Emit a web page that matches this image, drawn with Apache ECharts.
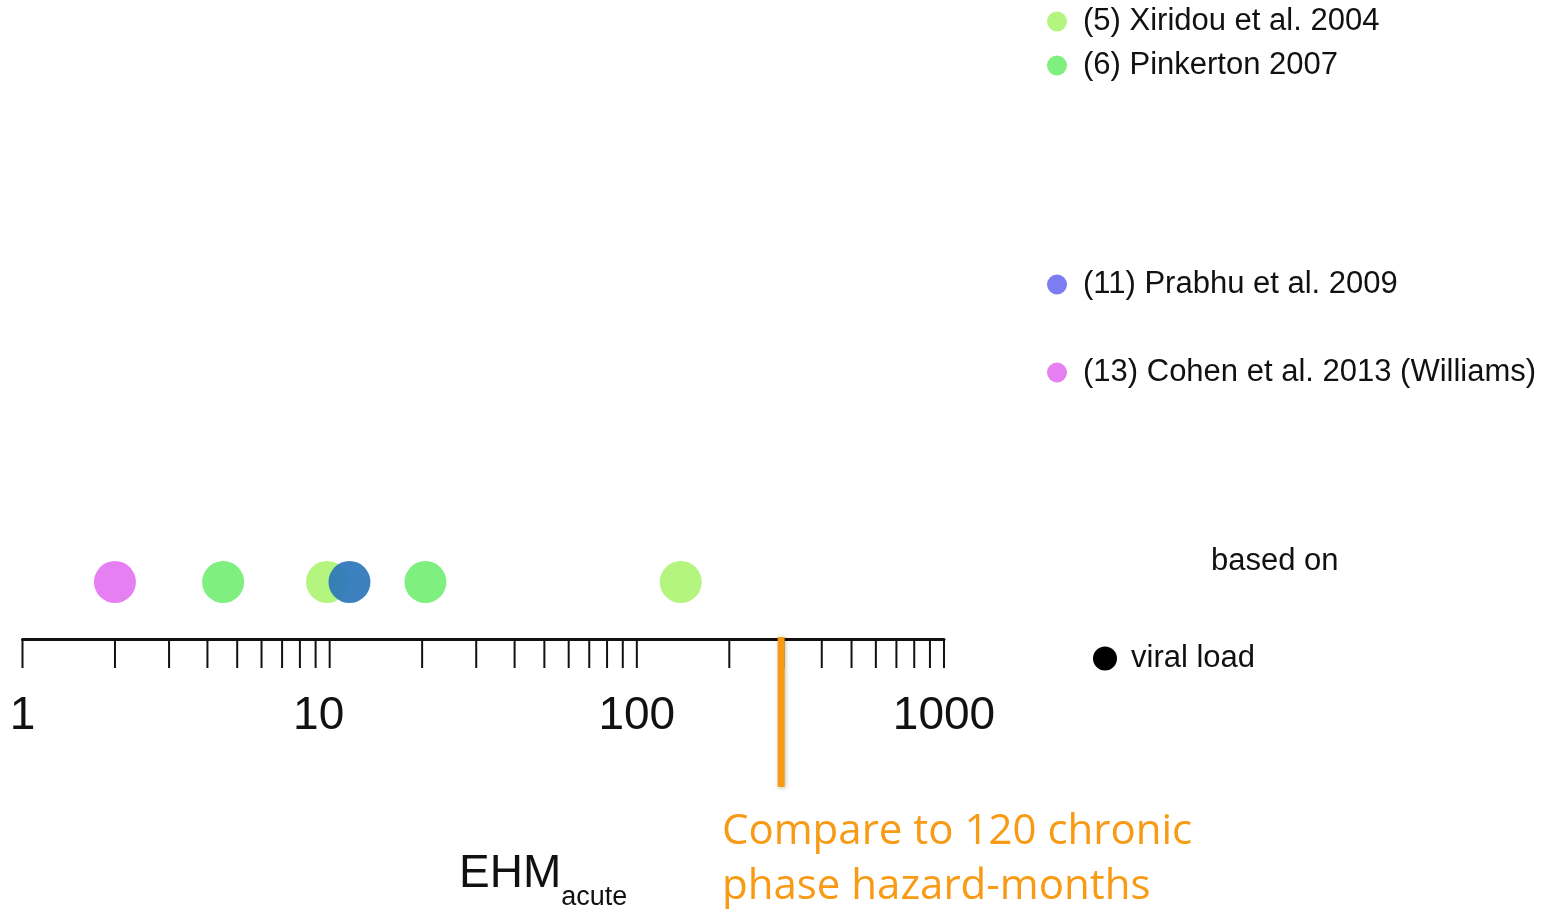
<!DOCTYPE html>
<html>
<head>
<meta charset="utf-8">
<title>EHM acute estimates</title>
<script src="https://cdn.jsdelivr.net/npm/echarts@6/dist/echarts.min.js"></script>
<style>
  html, body { margin: 0; padding: 0; background: #fff; }
  #chart { width: 1559px; height: 909px; }
</style>
</head>
<body>
<div id="chart"></div>
<script>
// Study names shown in the key
const studies = [
  '(5) Xiridou et al. 2004',
  '(6) Pinkerton 2007',
  '(11) Prabhu et al. 2009',
  '(13) Cohen et al. 2013 (Williams)'
];
// Excess hazard-months of the acute phase, per study
const xiridouEHM = [9.8, 139];
const pinkertonEHM = [4.5, 20.5];
const prabhuEHM = [11.6];
const cohenEHM = [2.0];
// Chronic phase reference marker on the axis
const chronicRef = 295;
// Log-axis tick marks: 1..10, 10..100, 100..1000
const axisTicks = [1, 2, 3, 4, 5, 6, 7, 8, 9, 10, 20, 30, 40, 50, 60, 70, 80, 90, 100,
  200, 300, 400, 500, 600, 700, 800, 900, 1000];
const tickLabels = ['1', '10', '100', '1000'];

const FONT = 'Liberation Sans';
const ORANGE = '#F89A14';

const chart = echarts.init(document.getElementById('chart'), null, { renderer: 'canvas' });

function legendBox(name, top, left, size, color) {
  return {
    show: true,
    orient: 'horizontal',
    left: left,
    top: top,
    padding: 0,
    icon: 'circle',
    itemWidth: 42,
    itemHeight: size,
    symbolKeepAspect: true,
    selectedMode: false,
    textStyle: { fontFamily: FONT, fontSize: 31, color: '#111' },
    data: [{ name: name, itemStyle: { color: color, opacity: 1 } }]
  };
}

const dot = (vals) => vals.map(v => [v, 1]);

const option = {
  backgroundColor: '#fff',
  animation: false,
  grid: { left: 22.5, right: 615, top: 525, bottom: 270, containLabel: false },
  title: [
    {
      text: 'based on', left: 1211, top: 546, padding: 0,
      textStyle: { fontFamily: FONT, fontSize: 31, fontWeight: 'normal', color: '#111' }
    },
    {
      text: '{a|EHM}{b|acute}', left: 459, top: 851, padding: 0,
      textStyle: {
        fontFamily: FONT, fontWeight: 'normal', color: '#111',
        rich: {
          a: { fontFamily: FONT, fontSize: 46, color: '#111', verticalAlign: 'bottom', padding: [0, 0, 14, 0] },
          b: { fontFamily: FONT, fontSize: 27, color: '#111', verticalAlign: 'bottom' }
        }
      }
    },
    {
      text: 'Compare to 120 chronic\nphase hazard-months', left: 722, top: 805, padding: 0,
      textStyle: { fontFamily: 'Open Sans', fontSize: 42, fontWeight: 'normal', lineHeight: 55, color: ORANGE }
    }
  ],
  legend: [
    legendBox(studies[0], 6, 1047, 20, '#B4F57F'),
    legendBox(studies[1], 50, 1047, 20, '#7FF07F'),
    legendBox(studies[2], 269, 1047, 20, '#7D7DF2'),
    legendBox(studies[3], 357, 1047, 20, '#E67FF2'),
    legendBox('viral load', 643, 1093, 24, '#000')
  ],
  xAxis: {
    type: 'log',
    logBase: 10,
    min: 1,
    max: 1000,
    axisLine: { show: true, lineStyle: { color: '#111', width: 3 } },
    axisTick: { show: false },
    minorTick: { show: false },
    splitLine: { show: false },
    axisLabel: {
      show: true,
      margin: 54,
      fontFamily: FONT,
      fontSize: 46,
      color: '#111',
      formatter: (v) => {
        const s = String(Math.round(v));
        if (tickLabels.indexOf(s) < 0) return '';
        return s === '10' ? '{s|' + s + '}' : s;
      },
      rich: { s: { fontFamily: FONT, fontSize: 46, color: '#111', padding: [0, 22, 0, 0] } }
    }
  },
  yAxis: { type: 'value', min: 0, max: 2, show: false },
  series: [
    {
      name: 'ticks', type: 'custom', clip: false, silent: true, z: 3,
      data: axisTicks.map(v => [v, 0]),
      renderItem: (params, api) => {
        const p = api.coord([api.value(0), 0]);
        return {
          type: 'line',
          shape: { x1: p[0], y1: p[1], x2: p[0], y2: p[1] + 29 },
          style: { stroke: '#111', lineWidth: 2 }
        };
      }
    },
    {
      name: 'chronic', type: 'custom', clip: false, silent: true, z: 4,
      data: [[chronicRef, 0]],
      renderItem: (params, api) => {
        const p = api.coord([api.value(0), 0]);
        return {
          type: 'rect',
          shape: { x: p[0] - 3.5, y: p[1] - 2, width: 7, height: 150 },
          style: { fill: ORANGE, shadowBlur: 4, shadowColor: 'rgba(0,0,0,0.25)', shadowOffsetX: 1, shadowOffsetY: 1 }
        };
      }
    },
    { name: studies[3], type: 'scatter', symbolSize: 42, data: dot(cohenEHM), itemStyle: { color: '#E67FF2', opacity: 1 } },
    { name: studies[1], type: 'scatter', symbolSize: 42, data: dot(pinkertonEHM), itemStyle: { color: '#7FF07F', opacity: 1 } },
    { name: studies[0], type: 'scatter', symbolSize: 42, data: dot(xiridouEHM), itemStyle: { color: '#B4F57F', opacity: 1 } },
    { name: studies[2], type: 'scatter', symbolSize: 42, data: dot(prabhuEHM), itemStyle: { color: '#2B75BA', opacity: 0.92 } },
    { name: 'viral load', type: 'scatter', data: [], itemStyle: { color: '#000', opacity: 1 } }
  ]
};

chart.setOption(option);
</script>
</body>
</html>
